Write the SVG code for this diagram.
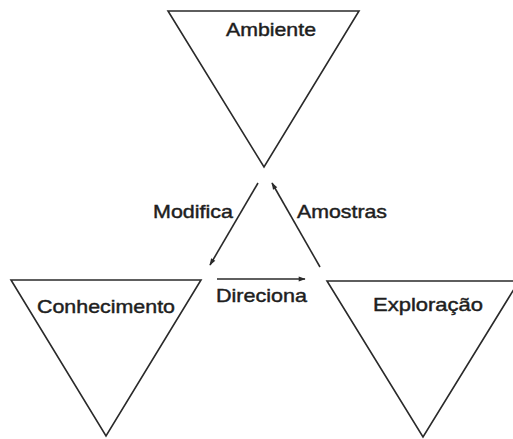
<svg xmlns="http://www.w3.org/2000/svg" width="513" height="439" viewBox="0 0 513 439">
<defs>
<style>
.tri{fill:#fff;stroke:#2a2a2a;stroke-width:1.6;stroke-linejoin:miter}
.lbl{font-family:"Liberation Sans",Arial,sans-serif;font-size:19px;fill:#1e1e1e;stroke:#1e1e1e;stroke-width:0.45}
.con{stroke:#2a2a2a;stroke-width:1.6;fill:none}
</style>
<marker id="ah" viewBox="0 0 10 10" refX="9" refY="5" markerWidth="8" markerHeight="7" orient="auto" markerUnits="userSpaceOnUse">
<path d="M0,1.5 L10,5 L0,8.5 Z" fill="#2a2a2a"/>
</marker>
</defs>
<rect width="513" height="439" fill="#fff"/>
<g id="ambiente">
<polygon class="tri" points="168,11 359,11 264,167"/>
<text class="lbl" x="226" y="36" textLength="90" lengthAdjust="spacingAndGlyphs">Ambiente</text>
</g>
<g id="conhecimento">
<polygon class="tri" points="11,280 201,280 106,436"/>
<text class="lbl" x="37" y="313" textLength="138" lengthAdjust="spacingAndGlyphs">Conhecimento</text>
</g>
<g id="exploracao">
<polygon class="tri" points="327,281 519,281 423,437"/>
<text class="lbl" x="373" y="311" textLength="110" lengthAdjust="spacingAndGlyphs">Exploração</text>
</g>
<g id="connectors">
<line class="con" x1="258" y1="183" x2="210" y2="265" marker-end="url(#ah)"/>
<line class="con" x1="320" y1="267" x2="272" y2="183" marker-end="url(#ah)"/>
<line class="con" x1="217" y1="279" x2="305" y2="279" marker-end="url(#ah)"/>
<text class="lbl" x="153" y="218" textLength="80" lengthAdjust="spacingAndGlyphs">Modifica</text>
<text class="lbl" x="297" y="218" textLength="90" lengthAdjust="spacingAndGlyphs">Amostras</text>
<text class="lbl" x="216" y="302" textLength="91" lengthAdjust="spacingAndGlyphs">Direciona</text>
</g>
</svg>
